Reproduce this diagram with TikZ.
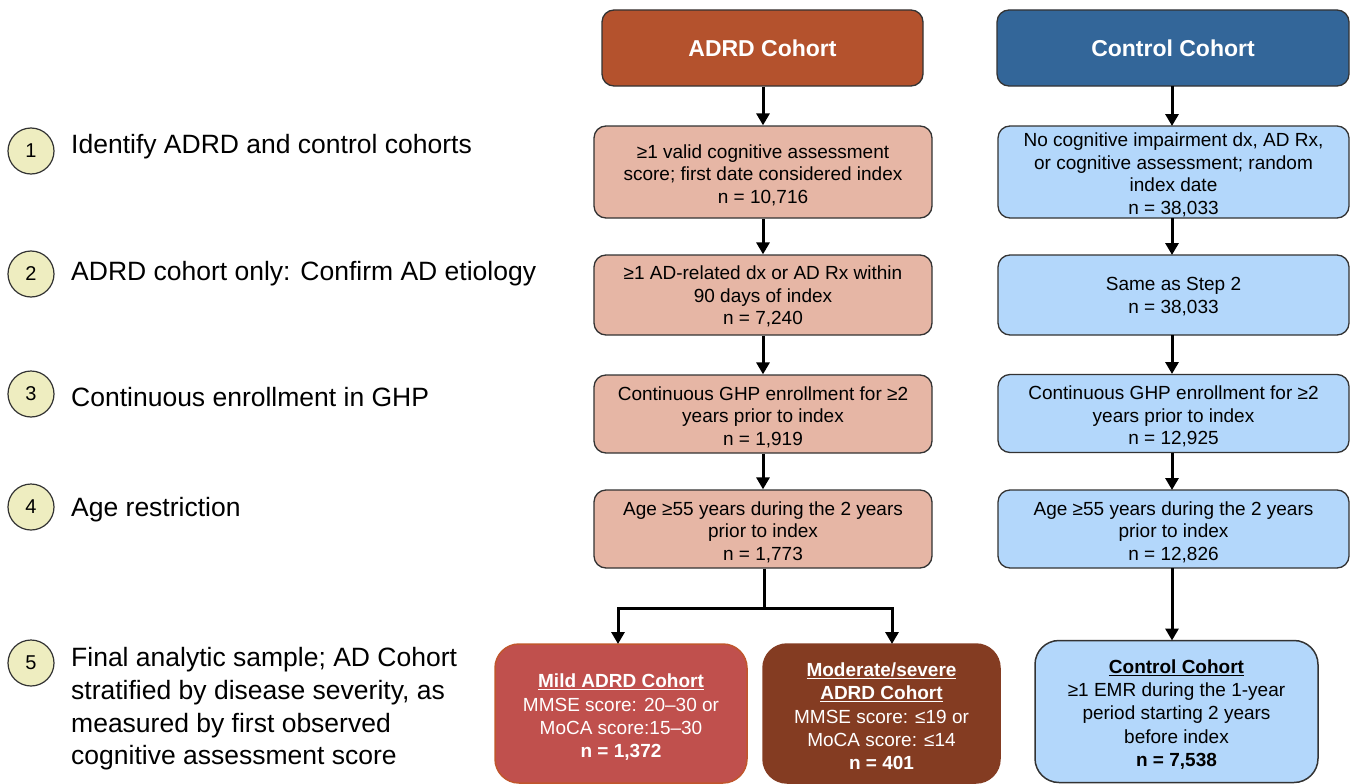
\documentclass[tikz,border=0pt]{standalone}
\usepackage{fontspec}
\setmainfont{Liberation Sans}
\usetikzlibrary{arrows.meta}
\definecolor{adrdhead}{HTML}{B4522D}
\definecolor{adrdbox}{HTML}{E6B6A5}
\definecolor{ctrlhead}{HTML}{336699}
\definecolor{ctrlbox}{HTML}{B3D7FB}
\definecolor{mildfill}{HTML}{C0504D}
\definecolor{mildedge}{HTML}{C0562D}
\definecolor{modfill}{HTML}{843C22}
\definecolor{stepfill}{HTML}{EEEDC0}
\definecolor{edge}{HTML}{333333}
\tikzset{
  headbox/.style={draw=edge, line width=1.3pt, rounded corners=12pt, inner sep=0pt,
    text=white, font=\fontsize{23}{27}\selectfont\bfseries},
  abox/.style={draw=edge, line width=1.3pt, rounded corners=12pt, fill=adrdbox, inner sep=0pt,
    minimum width=338pt},
  cbox/.style={draw=edge, line width=1.3pt, rounded corners=12pt, fill=ctrlbox, inner sep=0pt,
    minimum width=351pt},
  btext/.style={inner sep=0pt, align=center, font=\fontsize{19}{22.5}\selectfont},
  finalbox/.style={line width=1.5pt, rounded corners=24pt, inner sep=0pt},
  ftext/.style={inner sep=0pt, align=center, font=\fontsize{19}{23.3}\selectfont},
  stepnum/.style={circle, draw=edge, line width=1.2pt, fill=stepfill, minimum size=46pt,
    inner sep=0pt, font=\fontsize{20}{24}\selectfont},
  steptext/.style={anchor=west, inner sep=0pt, align=left, font=\fontsize{26.5}{32.6}\selectfont},
  arr/.style={line width=3pt, -{Triangle[length=12pt,width=13pt]}},
}
\begin{document}
\begin{tikzpicture}[x=1pt,y=-1pt]
\useasboundingbox (0,0) rectangle (1352,784);

% headers
\node[headbox, fill=adrdhead, minimum width=321pt, minimum height=76pt] (ah) at (762.5,48) {ADRD Cohort};
\node[headbox, fill=ctrlhead, minimum width=352pt, minimum height=76pt] (ch) at (1173,48) {Control Cohort};

% ADRD column
\node[abox, minimum height=92pt] (a1) at (763,172) {};
\node[abox, minimum height=80pt] (a2) at (763,295) {};
\node[abox, minimum height=78pt] (a3) at (763,414) {};
\node[abox, minimum height=78pt] (a4) at (763,529) {};
\node[btext] (a1t) at ([yshift=-3pt]a1.center) {≥1 valid cognitive assessment\\score; first date considered index\\n = 10,716};
\node[btext] (a2t) at ([yshift=-1.5pt]a2.center) {≥1 AD-related dx or AD Rx within\\90 days of index\\n = 7,240};
\node[btext] (a3t) at ([yshift=-3pt]a3.center) {Continuous GHP enrollment for ≥2\\years prior to index\\n = 1,919};
\node[btext] (a4t) at ([yshift=-3pt]a4.center) {Age ≥55 years during the 2 years\\prior to index\\n = 1,773};

% Control column
\node[cbox, minimum height=92pt] (c1) at (1173.5,172) {};
\node[cbox, minimum height=80pt] (c2) at (1173.5,295) {};
\node[cbox, minimum height=78pt] (c3) at (1173.5,413.5) {};
\node[cbox, minimum height=78pt] (c4) at (1173.5,529) {};
\node[btext] (c1t) at ([yshift=-3pt]c1.center) {No cognitive impairment dx, AD Rx,\\or cognitive assessment; random\\index date\\n = 38,033};
\node[btext] (c2t) at ([yshift=-1.5pt]c2.center) {Same as Step 2\\n = 38,033};
\node[btext] (c3t) at ([yshift=-3pt]c3.center) {Continuous GHP enrollment for ≥2\\years prior to index\\n = 12,925};
\node[btext] (c4t) at ([yshift=-3pt]c4.center) {Age ≥55 years during the 2 years\\prior to index\\n = 12,826};

% final boxes
\node[finalbox, draw=mildedge, fill=mildfill, minimum width=252pt, minimum height=139pt] (mild) at (621,713.5) {};
\node[finalbox, draw=modfill, fill=modfill, minimum width=237pt, minimum height=139pt] (mod) at (881.5,713.5) {};
\node[finalbox, draw=edge, fill=ctrlbox, minimum width=283pt, minimum height=142pt] (cf) at (1176.5,711.5) {};
\node[ftext, text=white] (mildt) at ([yshift=-4pt]mild.center)
  {\textbf{\underline{Mild ADRD Cohort}}\\MMSE score: 20–30 or\\MoCA score:15–30\\\textbf{n = 1,372}};
\node[ftext, text=white] (modt) at ([yshift=-3pt]mod.center)
  {\textbf{\underline{Moderate/severe}}\\\textbf{\underline{ADRD Cohort}}\\MMSE score: ≤19 or\\MoCA score: ≤14\\\textbf{n = 401}};
\node[ftext] (cft) at ([yshift=-3pt]cf.center)
  {\textbf{\underline{Control Cohort}}\\≥1 EMR during the 1-year\\period starting 2 years\\before index\\\textbf{n = 7,538}};

% arrows
\draw[arr] (ah.south -| a1.north) -- (a1.north);
\draw[arr] (a1) -- (a2);
\draw[arr] (a2) -- (a3);
\draw[arr] (a3) -- (a4);
\coordinate (br) at (764,608);
\draw[line width=3pt] (a4.south -| br) -- (br);
\draw[arr] ([xshift=1.5pt]br) -| (618,644);
\draw[arr] ([xshift=-1.5pt]br) -| (892,644);
\draw[arr] (1172,86) -- (1172,126);
\draw[arr] (1172,218) -- (1172,255);
\draw[arr] (1172,335) -- (1172,374);
\draw[arr] (1172,452.5) -- (1172,490);
\draw[arr] (1172,568) -- (1172,640.5);

% steps
\node[stepnum] (s1) at (31,151) {1};
\node[stepnum] (s2) at (31,274) {2};
\node[stepnum] (s3) at (31,394) {3};
\node[stepnum] (s4) at (31,507) {4};
\node[stepnum] (s5) at (31,663) {5};
\node[steptext] (t1) at (71,147) {Identify ADRD and control cohorts};
\node[steptext] (t2) at (71,274) {ADRD cohort only: Confirm AD etiology};
\node[steptext] (t3) at (71,397) {Continuous enrollment in GHP};
\node[steptext] (t4) at (71,510) {Age restriction};
\node[steptext] (t5) at (71,709) {Final analytic sample; AD Cohort\\stratified by disease severity, as\\measured by first observed\\cognitive assessment score};
\end{tikzpicture}
\end{document}
